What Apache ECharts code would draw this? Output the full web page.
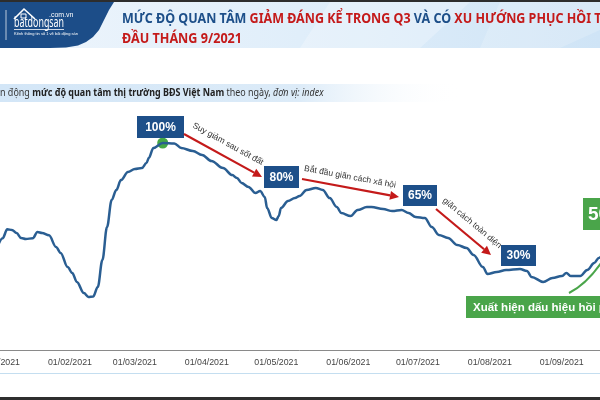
<!DOCTYPE html>
<html><head><meta charset="utf-8">
<script src="https://cdn.jsdelivr.net/npm/echarts@6/dist/echarts.min.js"></script>
<style>html,body{margin:0;padding:0;background:#fff;overflow:hidden}#c{width:600px;height:400px}</style>
</head><body><div id="c"></div>
<script>
// ---- data ----
const dates = ['2021-01-01','2021-01-03','2021-01-05','2021-01-07','2021-01-09','2021-01-11','2021-01-13','2021-01-16','2021-01-18','2021-01-20','2021-01-23','2021-01-26','2021-01-28','2021-01-31',
'2021-02-02','2021-02-04','2021-02-07','2021-02-09','2021-02-11','2021-02-13','2021-02-15','2021-02-17','2021-02-19','2021-02-21','2021-02-23','2021-02-26',
'2021-03-01','2021-03-04','2021-03-06','2021-03-07','2021-03-09','2021-03-13','2021-03-18','2021-03-21','2021-03-26','2021-03-30',
'2021-04-03','2021-04-08','2021-04-12','2021-04-14','2021-04-16','2021-04-19','2021-04-22','2021-04-24','2021-04-26','2021-04-27','2021-04-29',
'2021-05-01','2021-05-02','2021-05-03','2021-05-06','2021-05-09','2021-05-11','2021-05-14','2021-05-18','2021-05-21','2021-05-24','2021-05-27','2021-05-29',
'2021-06-02','2021-06-05','2021-06-09','2021-06-11','2021-06-16','2021-06-20','2021-06-24','2021-06-27','2021-06-30',
'2021-07-04','2021-07-07','2021-07-10','2021-07-14','2021-07-18','2021-07-22','2021-07-25','2021-07-29','2021-07-31',
'2021-08-04','2021-08-08','2021-08-14','2021-08-17','2021-08-19','2021-08-24','2021-08-28',
'2021-09-01','2021-09-03','2021-09-05','2021-09-09','2021-09-12','2021-09-15','2021-09-17','2021-09-19'];
const values = [50.5,54,58.3,58,56.5,54.1,53.6,54,57,56.5,55.4,49.8,46.9,40.1,
37.2,32.9,27.5,25.6,25.8,30.4,43.5,59.4,72.5,77.3,82.1,86,
87.4,87.9,90.3,92.8,97.6,100,99.8,97.6,96.1,94.2,
91.3,87.9,84.5,83.1,80.7,78.7,75.8,76.8,73.9,68.6,63.8,
62.8,64.7,68.6,72,73.4,74.4,77.3,78.3,77.3,73.4,69.1,66.2,
64.7,67.6,69.1,69.1,68.1,67.1,67.6,66.2,64.3,
63.8,59.4,55.6,54.1,50.7,49.3,45.9,40.1,36.7,
37.7,38.6,39.1,38.2,35.3,32.9,34.8,
35.7,37.2,35.7,35.7,38.6,42,44.5,47];
const tickDates = ['2021-01-01','2021-02-01','2021-03-01','2021-04-01','2021-05-01','2021-06-01','2021-07-01','2021-08-01','2021-09-01'];
const peakPoint = ['2021-03-13', 100];
const boxLabels = ['100%','80%','65%','30%'];
const arrowTexts = ['Suy giảm sau sốt đất','Bắt đầu giãn cách xã hội','giãn cách toàn diện'];
const recoveryLabel = '50%';
const recoveryText = 'Xuất hiện dấu hiệu hồi phục';
const titleParts = ['MỨC ĐỘ QUAN TÂM ','GIẢM ĐÁNG KỂ TRONG Q3',' VÀ CÓ ','XU HƯỚNG PHỤC HỒI TRỞ LẠI'];
const titleLine2 = 'ĐẦU THÁNG 9/2021';
const subtitleParts = ['Biến động ','mức độ quan tâm thị trường BĐS Việt Nam',' theo ngày, ','đơn vị: index'];

// ---- helpers ----
const NOTO = "'Noto Sans','Open Sans',sans-serif";
const SANS = "'Liberation Sans',Arial,sans-serif";
const BLUE = '#1d4f89', RED = '#c41a1a', GREEN = '#4aa54a';
const mctx = document.createElement('canvas').getContext('2d');
function measure(str, font){ mctx.font = font; return mctx.measureText(str).width; }
function ts(s){ const p=s.split('-'); return Date.UTC(+p[0], +p[1]-1, +p[2]); }
function pad(n){ return (n<10?'0':'')+n; }
function arrow(x1,y1,x2,y2,color){
  const a=Math.atan2(y2-y1,x2-x1), L=9, W=4.5;
  const bx=x2-L*Math.cos(a), by=y2-L*Math.sin(a);
  return [
    {type:'line', shape:{x1:x1,y1:y1,x2:bx,y2:by}, style:{stroke:color, lineWidth:2.2}, z:20},
    {type:'polygon', shape:{points:[[x2,y2],[bx-W*Math.sin(a),by+W*Math.cos(a)],[bx+W*Math.sin(a),by-W*Math.cos(a)]]}, style:{fill:color}, z:20}
  ];
}
function box(x,y,w,h,txt,fill,fs,align){
  return [
    {type:'rect', shape:{x:x,y:y,width:w,height:h}, style:{fill:fill}, z:20},
    {type:'text', x: align==='left'? x+5 : x+w/2, y:y+h/2+0.5, style:{text:txt, fill:'#fff', font:'bold '+fs+'px '+SANS, textAlign: align||'center', textVerticalAlign:'middle'}, z:21}
  ];
}
function rotText(cx,cy,ang,txt){
  return {type:'text', x:cx, y:cy, rotation:-ang, style:{text:txt, fill:'#333', font:'8.5px '+SANS, textAlign:'center', textVerticalAlign:'middle'}, z:21};
}

const TF = 'bold 15px '+NOTO;
const t1Scale = 469 / measure(titleParts[0]+titleParts[1]+titleParts[2]+'XU HƯỚNG PHỤC HỒI', TF);
const t2Scale = 120 / measure(titleLine2, TF);
const SF = '10.5px '+NOTO, SB = 'bold 10.5px '+NOTO;
const subScale = 192 / measure(subtitleParts[1], SB);
const subX = -subScale * measure('Biế', SF);
const LF = '14px '+NOTO;
const logoScale = 50 / measure('batdongsan', LF);

const graphics = [
  {type:'rect', shape:{x:0,y:0,width:600,height:48}, style:{fill:new echarts.graphic.LinearGradient(0,0,1,0,[{offset:0,color:'#eef5fc'},{offset:0.5,color:'#e0eefa'},{offset:1,color:'#cfe4f6'}])}, z:1},
  {type:'polygon', shape:{points:[[330,2],[470,2],[420,48],[300,48]]}, style:{fill:'rgba(255,255,255,0.25)'}, z:2},
  {type:'polygon', shape:{points:[[500,2],[600,2],[600,30],[560,48],[480,48]]}, style:{fill:'rgba(255,255,255,0.18)'}, z:2},
  {type:'rect', shape:{x:0,y:0,width:600,height:2}, style:{fill:'#2d2d2d'}, z:3},
  {type:'polygon', shape:{points:[[0,2],[114,2],[109,10],[104,20],[99,30],[93,37],[86,42],[78,45.5],[66,47.5],[50,48],[0,48]]}, style:{fill:'#1c4d88'}, z:3},
  {type:'line', shape:{x1:6,y1:10,x2:6,y2:40}, style:{stroke:'rgba(255,255,255,0.7)', lineWidth:1}, z:4},
  {type:'polyline', shape:{points:[[14,19],[24,9],[35,19]]}, style:{stroke:'#fff', lineWidth:1.6, fill:null}, z:4},
  {type:'rect', shape:{x:21,y:14,width:5,height:4}, style:{stroke:'#fff', lineWidth:1, fill:null}, z:4},
  {type:'text', x:49, y:15, style:{text:'.com.vn', fill:'#fff', font:'7px '+SANS, textVerticalAlign:'middle'}, z:4},
  {type:'text', x:14, y:23, scaleX:logoScale, style:{text:'batdongsan', fill:'#fff', font:LF, textVerticalAlign:'middle'}, z:4},
  {type:'line', shape:{x1:14,y1:29.5,x2:64,y2:29.5}, style:{stroke:'#fff', lineWidth:0.8}, z:4},
  {type:'text', x:14, y:34, style:{text:'Kênh thông tin số 1 về bất động sản', fill:'#fff', font:'4px '+SANS, textVerticalAlign:'middle'}, z:4},
  {type:'text', x:122, y:18.5, scaleX:t1Scale, style:{text:'{b|'+titleParts[0]+'}{r|'+titleParts[1]+'}{b|'+titleParts[2]+'}{r|'+titleParts[3]+'}', textVerticalAlign:'middle',
     rich:{b:{fill:BLUE, font:TF}, r:{fill:RED, font:TF}}}, z:5},
  {type:'text', x:122, y:38.5, scaleX:t2Scale, style:{text:titleLine2, fill:RED, font:TF, textVerticalAlign:'middle'}, z:5},
  {type:'rect', shape:{x:0,y:84,width:460,height:18}, style:{fill:new echarts.graphic.LinearGradient(0,0,1,0,[{offset:0,color:'#d3e6f7'},{offset:0.65,color:'#dcebf8'},{offset:1,color:'rgba(255,255,255,0)'}])}, z:1},
  {type:'text', x:subX, y:93, scaleX:subScale, style:{text:'{n|'+subtitleParts[0]+'}{bo|'+subtitleParts[1]+'}{n|'+subtitleParts[2]+'}{i|'+subtitleParts[3]+'}', textVerticalAlign:'middle',
     rich:{n:{fill:'#333', font:SF}, bo:{fill:'#222', font:SB}, i:{fill:'#333', font:'italic '+SF}}}, z:5},
  {type:'line', shape:{x1:0,y1:373.5,x2:600,y2:373.5}, style:{stroke:'#c4def0', lineWidth:1}, z:1},
  {type:'rect', shape:{x:0,y:397,width:600,height:3}, style:{fill:'#2f2f2f'}, z:1},
  ...box(137,116,47,22,boxLabels[0],BLUE,12),
  ...arrow(184,134,262,177,RED),
  rotText(228,144,Math.atan2(43,78),arrowTexts[0]),
  ...box(264,166,35,22,boxLabels[1],BLUE,12),
  ...arrow(302,179,399,197,RED),
  rotText(350,177,Math.atan2(18,97),arrowTexts[1]),
  ...box(403,185,34,21,boxLabels[2],BLUE,12),
  ...arrow(436,209,491,255,RED),
  rotText(472,223,Math.atan2(46,55),arrowTexts[2]),
  ...box(501,245,35,21,boxLabels[3],BLUE,12),
  {type:'bezierCurve', shape:{x1:569,y1:293,cpx1:588,cpy1:283,x2:603,y2:260}, style:{stroke:GREEN, lineWidth:2, fill:null}, z:20},
  ...box(583,198,60,32,recoveryLabel,GREEN,19,'left'),
  {type:'rect', shape:{x:466,y:296,width:140,height:22}, style:{fill:GREEN}, z:20},
  {type:'text', x:473, y:307.5, style:{text:recoveryText, fill:'#fff', font:'bold 11.5px '+SANS, textVerticalAlign:'middle'}, z:21}
];

const chart = echarts.init(document.getElementById('c'), null, {renderer:'canvas'});
chart.setOption({
  animation:false,
  backgroundColor:'#fff',
  grid:{left:-2, right:0, top:143, bottom:50, containLabel:false, outerBoundsMode:'none'},
  xAxis:{type:'value', min:ts('2021-01-01'), max:ts('2021-09-17')+12*3600*1000,
    axisLine:{show:true, lineStyle:{color:'#8a8a8a', width:1}},
    axisTick:{show:false}, splitLine:{show:false},
    axisLabel:{customValues:tickDates.map(ts), color:'#444', fontSize:8.8, fontFamily:SANS, margin:8, hideOverlap:false,
      formatter:function(v){const d=new Date(v);return pad(d.getUTCDate())+'/'+pad(d.getUTCMonth()+1)+'/'+d.getUTCFullYear();}}
  },
  yAxis:{type:'value', min:0, max:100, show:false},
  series:[{type:'line', data:dates.map((d,i)=>[ts(d),values[i]]), smooth:0.35, smoothMonotone:'x', showSymbol:false, clip:false,
    lineStyle:{color:'#2a5e92', width:2.5}, z:10,
    markPoint:{symbol:'circle', symbolSize:11, itemStyle:{color:'#45a845'}, label:{show:false}, data:[{coord:[ts(peakPoint[0]),peakPoint[1]]}]}
  }],
  graphic:graphics
});
</script></body></html>
